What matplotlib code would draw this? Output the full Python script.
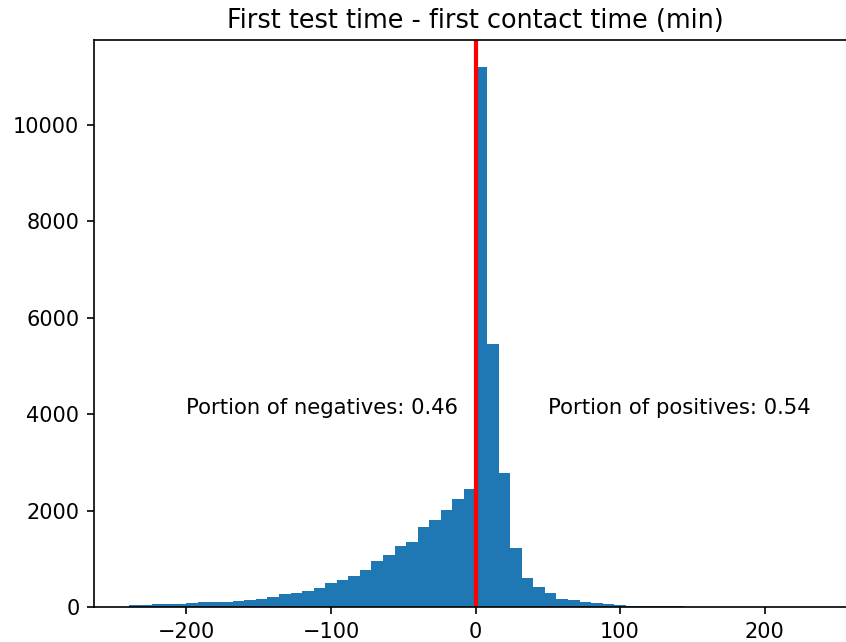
"""Histogram of first test time minus first contact time (minutes)."""
import numpy as np
import matplotlib
matplotlib.use('Agg')
import matplotlib.pyplot as plt

# bin edges: 60 bins of 8 minutes from -240 to 240
bin_edges = np.arange(-240, 241, 8)

# counts per bin
counts = [
    35, 40, 55, 58, 62, 80, 98, 104, 112, 118,
    152, 160, 205, 265, 287, 328, 390, 495, 570, 633,
    757, 944, 1068, 1255, 1338, 1649, 1795, 2002, 2235, 2442,
    11195, 5446, 2772, 1220, 598, 407, 280, 176, 135, 95,
    88, 68, 32, 28, 25, 22, 20, 17, 10, 8,
    7, 6, 5, 4, 4, 3, 3, 2, 2, 1,
]

portion_neg = 0.46
portion_pos = 0.54


def save_hist_plot(out='out.png'):
    fig = plt.figure(figsize=(846 / 150, 642 / 150), dpi=150)
    # the right edge of the axes runs past the figure, as in the source image
    ax = fig.add_axes([94 / 846, 35 / 642, 763 / 846, 567 / 642])
    ax.hist(bin_edges[:-1], bins=bin_edges, weights=counts)
    ax.axvline(0, color='red', linewidth=2)
    ax.text(-200, 4000, f'Portion of negatives: {portion_neg}', fontsize=10.15)
    ax.text(50, 4000, f'Portion of positives: {portion_pos}', fontsize=10.15)
    ax.set_title('First test time - first contact time (min)', fontsize=12.25)
    fig.savefig(out, dpi=150)
    plt.close(fig)


def main():
    save_hist_plot()


if __name__ == '__main__':
    main()
